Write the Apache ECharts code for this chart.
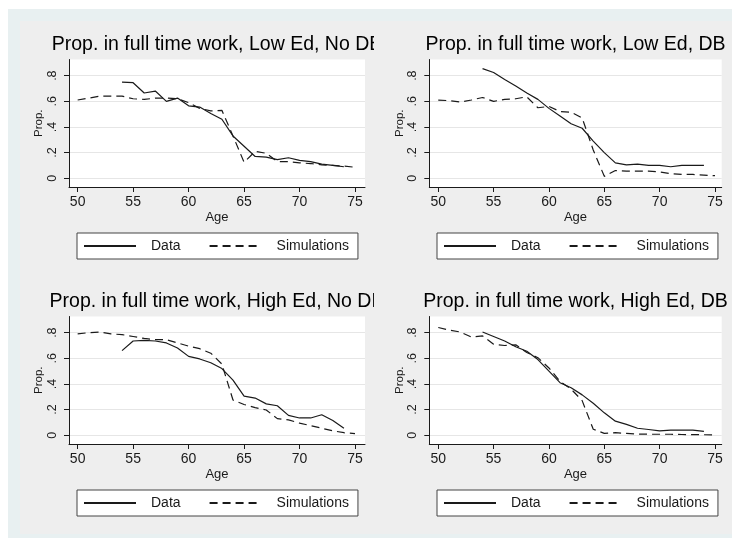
<!DOCTYPE html>
<html><head><meta charset="utf-8">
<script src="https://cdn.jsdelivr.net/npm/echarts@6/dist/echarts.min.js"></script>
<style>html,body{margin:0;padding:0;background:#fff;}#c{width:732px;height:538px;}</style>
</head><body><div id="c"></div>
<script>
// ---- data ----
const simAges  = [50,51,52,53,54,55,56,57,58,59,60,61,62,63,64,65,66,67,68,69,70,71,72,73,74,75];
const dataAges = [54,55,56,57,58,59,60,61,62,63,64,65,66,67,68,69,70,71,72,73,74];

const lowNoDbSim  = [0.61,0.625,0.64,0.64,0.64,0.62,0.615,0.625,0.625,0.62,0.59,0.545,0.525,0.53,0.33,0.125,0.21,0.195,0.13,0.13,0.12,0.115,0.105,0.1,0.095,0.086];
const lowNoDbData = [0.75,0.745,0.665,0.68,0.60,0.625,0.565,0.555,0.505,0.46,0.33,0.25,0.17,0.165,0.145,0.16,0.14,0.13,0.11,0.10,0.09];

const lowDbSim  = [0.61,0.605,0.595,0.61,0.63,0.60,0.615,0.62,0.635,0.55,0.56,0.52,0.515,0.47,0.22,0.015,0.06,0.055,0.055,0.055,0.05,0.035,0.03,0.03,0.025,0.02];
const lowDbData = [0.855,0.825,0.77,0.72,0.665,0.615,0.545,0.485,0.425,0.39,0.29,0.2,0.12,0.105,0.11,0.1,0.1,0.09,0.1,0.1,0.1];

const highNoDbSim  = [0.79,0.80,0.805,0.79,0.785,0.77,0.755,0.745,0.745,0.72,0.695,0.675,0.64,0.555,0.275,0.24,0.215,0.197,0.13,0.12,0.095,0.075,0.055,0.035,0.02,0.013];
const highNoDbData = [0.66,0.735,0.74,0.735,0.72,0.68,0.615,0.595,0.565,0.52,0.43,0.305,0.29,0.245,0.23,0.155,0.135,0.135,0.16,0.115,0.055];

const highDbSim  = [0.84,0.82,0.805,0.765,0.775,0.71,0.70,0.705,0.645,0.605,0.525,0.42,0.36,0.27,0.047,0.015,0.02,0.015,0.01,0.008,0.008,0.008,0.006,0.005,0.004,0.003];
const highDbData = [0.805,0.77,0.735,0.69,0.655,0.59,0.5,0.41,0.37,0.315,0.25,0.175,0.11,0.085,0.055,0.045,0.035,0.04,0.04,0.04,0.03];

const xTicks = [50,55,60,65,70,75];
const yTicks = [0,0.2,0.4,0.6,0.8];
const yTickLabels = ['0','.2','.4','.6','.8'];
const titles = [
  'Prop. in full time work, Low Ed, No DB',
  'Prop. in full time work, Low Ed, DB',
  'Prop. in full time work, High Ed, No DB',
  'Prop. in full time work, High Ed, DB'
];
const seriesNames = ['Data','Simulations'];

// ---- layout ----
const panels = [
  {sim: lowNoDbSim,  data: lowNoDbData,  left: 69,    top: 59.5,  width: 296,   xmin: 49.22, xmax: 75.9,  legendLeft: 77},
  {sim: lowDbSim,    data: lowDbData,    left: 429.3, top: 59.5,  width: 292.4, xmin: 49.19, xmax: 75.605, legendLeft: 437},
  {sim: highNoDbSim, data: highNoDbData, left: 69,    top: 316.5, width: 296,   xmin: 49.22, xmax: 75.9,  legendLeft: 77},
  {sim: highDbSim,   data: highDbData,   left: 429.3, top: 316.5, width: 292.4, xmin: 49.19, xmax: 75.605, legendLeft: 437}
];
const gridH = 127.5, yMin = -0.068, yMax = 0.926;
const FONT = "'Liberation Sans', Arial, Helvetica, sans-serif";
const ink = '#1a1a1a';

const grid = [], xAxis = [], yAxis = [], series = [], legend = [];
const graphics = [
  {type: 'rect', shape: {x: 8, y: 9, width: 724, height: 529}, style: {fill: '#e8f0f1'}, z: -100, silent: true},
  {type: 'rect', shape: {x: 20, y: 21, width: 712, height: 513}, style: {fill: '#eeeeee'}, z: -99, silent: true}
];

panels.forEach((p, i) => {
  grid.push({left: p.left, top: p.top, width: p.width, height: gridH, show: true,
    backgroundColor: '#ffffff', borderWidth: 0, containLabel: false});
  xAxis.push({type: 'value', gridIndex: i, min: p.xmin, max: p.xmax,
    name: 'Age', nameLocation: 'middle', nameGap: 24,
    nameTextStyle: {fontFamily: FONT, fontSize: 13, color: ink},
    axisLine: {show: true, onZero: false, lineStyle: {color: ink, width: 1}},
    axisTick: {show: true, length: 5, customValues: xTicks, lineStyle: {color: ink}},
    axisLabel: {customValues: xTicks, margin: 8, fontFamily: FONT, fontSize: 14, color: ink},
    splitLine: {show: false}});
  yAxis.push({type: 'value', gridIndex: i, min: yMin, max: yMax,
    name: 'Prop.', nameLocation: 'middle', nameGap: 23, nameRotate: 90,
    nameTextStyle: {fontFamily: FONT, fontSize: 11.5, color: ink},
    axisLine: {show: true, onZero: false, lineStyle: {color: ink, width: 1}},
    axisTick: {show: true, length: 5, customValues: yTicks, lineStyle: {color: ink}},
    axisLabel: {customValues: yTicks, rotate: 90, margin: 10, fontFamily: FONT, fontSize: 12.5, color: ink,
      formatter: v => { const k = yTicks.findIndex(t => Math.abs(t - v) < 1e-6); return k >= 0 ? yTickLabels[k] : ''; }},
    splitLine: {show: true, lineStyle: {color: '#e6e6e6', width: 1}}});
  series.push({type: 'line', name: seriesNames[0], xAxisIndex: i, yAxisIndex: i,
    data: dataAges.map((a, k) => [a, p.data[k]]), symbol: 'none', showSymbol: false,
    lineStyle: {color: ink, width: 1.2, type: 'solid'}, itemStyle: {color: ink}, silent: true});
  series.push({type: 'line', name: seriesNames[1], xAxisIndex: i, yAxisIndex: i,
    data: simAges.map((a, k) => [a, p.sim[k]]), symbol: 'none', showSymbol: false,
    lineStyle: {color: ink, width: 1.2, type: [8, 5]}, itemStyle: {color: ink}, silent: true});
  legend.push({data: seriesNames, left: p.legendLeft, top: p.top + 173.5, orient: 'horizontal',
    itemWidth: 52, itemHeight: 14, itemGap: 28, padding: [6, 9, 6, 6],
    backgroundColor: '#ffffff', borderColor: '#444444', borderWidth: 1, borderRadius: 0,
    selectedMode: false,
    itemStyle: {opacity: 0, borderWidth: 0},
    lineStyle: {opacity: 1},
    textStyle: {fontFamily: FONT, fontSize: 14, color: ink, padding: [0, 0, 0, 10]}});
  graphics.push({type: 'text', x: p.left + p.width / 2, y: p.top - 15, z: 5,
    style: {text: titles[i], font: '19.5px ' + FONT, fill: '#000', align: 'center', verticalAlign: 'middle'}, silent: true});
});
// cover the overflowing part of the left-column titles (as in the original)
graphics.push({type: 'rect', shape: {x: 374, y: 30, width: 48, height: 28}, style: {fill: '#eeeeee'}, z: 6, silent: true});
graphics.push({type: 'rect', shape: {x: 374, y: 287, width: 48, height: 28}, style: {fill: '#eeeeee'}, z: 6, silent: true});

const chart = echarts.init(document.getElementById('c'), null, {renderer: 'canvas'});
chart.setOption({animation: false, backgroundColor: '#ffffff', grid, xAxis, yAxis, series, legend, graphic: graphics});
</script></body></html>
